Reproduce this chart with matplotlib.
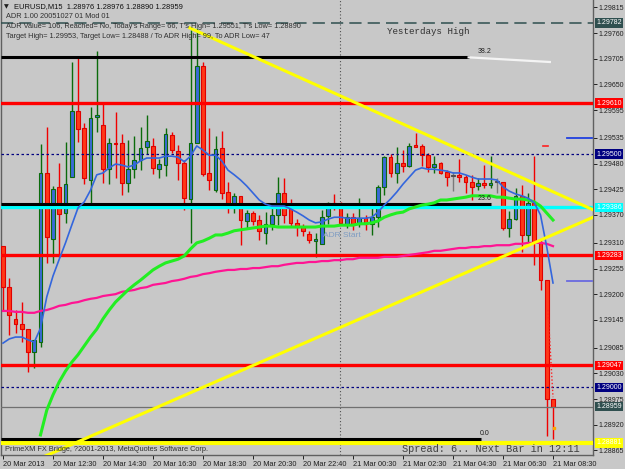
import numpy as np
import matplotlib
matplotlib.use('Agg')
import matplotlib.pyplot as plt
from matplotlib.patches import Rectangle
import matplotlib.transforms as mtransforms

# EURUSD M15, 20 Mar 10:30 .. 21 Mar 08:30
opens = [1.29304, 1.29216, 1.29147, 1.29137, 1.29126, 1.29077, 1.29098, 1.29460, 1.29319, 1.29430,
         1.29374, 1.29451, 1.29592, 1.29556, 1.29445, 1.29580, 1.29562, 1.29468, 1.29524, 1.29524,
         1.29438, 1.29468, 1.29488, 1.29515, 1.29518, 1.29468, 1.29477, 1.29541, 1.29507, 1.29481,
         1.29404, 1.29524, 1.29689, 1.29460, 1.29423, 1.29513, 1.29419, 1.29391, 1.29411, 1.29357,
         1.29374, 1.29359, 1.29331, 1.29351, 1.29370, 1.29417, 1.29389, 1.29353, 1.29344, 1.29329,
         1.29314, 1.29308, 1.29368, 1.29396, 1.29387, 1.29351, 1.29366, 1.29351, 1.29364, 1.29351,
         1.29366, 1.29430, 1.29494, 1.29460, 1.29481, 1.29475, 1.29520, 1.29518, 1.29498, 1.29473,
         1.29481, 1.29462, 1.29453, 1.29455, 1.29451, 1.29440, 1.29432, 1.29438, 1.29434, 1.29440,
         1.29440, 1.29342, 1.29361, 1.29411, 1.29327, 1.29396, 1.29312, 1.29231, 1.28976]
highs = [1.29304, 1.29235, 1.29167, 1.29184, 1.29126, 1.29102, 1.29522, 1.29558, 1.29432, 1.29481,
         1.29526, 1.29697, 1.29706, 1.29567, 1.29601, 1.29721, 1.29607, 1.29535, 1.29590, 1.29543,
         1.29530, 1.29539, 1.29558, 1.29584, 1.29535, 1.29490, 1.29556, 1.29548, 1.29520, 1.29488,
         1.29766, 1.29770, 1.29697, 1.29556, 1.29539, 1.29550, 1.29440, 1.29417, 1.29411, 1.29381,
         1.29378, 1.29370, 1.29376, 1.29389, 1.29451, 1.29449, 1.29404, 1.29361, 1.29351, 1.29336,
         1.29331, 1.29381, 1.29398, 1.29415, 1.29398, 1.29374, 1.29374, 1.29406, 1.29370, 1.29389,
         1.29434, 1.29496, 1.29500, 1.29515, 1.29509, 1.29524, 1.29545, 1.29522, 1.29503, 1.29496,
         1.29483, 1.29466, 1.29462, 1.29490, 1.29455, 1.29455, 1.29449, 1.29477, 1.29496, 1.29449,
         1.29440, 1.29378, 1.29428, 1.29434, 1.29417, 1.29496, 1.29316, 1.29231, 1.28976]
lows = [1.29167, 1.29113, 1.29117, 1.29098, 1.29032, 1.29042, 1.29087, 1.29267, 1.29267, 1.29280,
        1.29353, 1.29451, 1.29526, 1.29436, 1.29396, 1.29548, 1.29438, 1.29436, 1.29449, 1.29413,
        1.29419, 1.29449, 1.29466, 1.29500, 1.29458, 1.29449, 1.29453, 1.29503, 1.29445, 1.29381,
        1.29310, 1.29524, 1.29453, 1.29423, 1.29419, 1.29404, 1.29374, 1.29374, 1.29306, 1.29342,
        1.29349, 1.29316, 1.29308, 1.29338, 1.29349, 1.29353, 1.29344, 1.29325, 1.29325, 1.29310,
        1.29280, 1.29308, 1.29351, 1.29381, 1.29351, 1.29342, 1.29338, 1.29344, 1.29338, 1.29327,
        1.29344, 1.29413, 1.29451, 1.29438, 1.29462, 1.29473, 1.29518, 1.29475, 1.29462, 1.29460,
        1.29458, 1.29432, 1.29421, 1.29440, 1.29417, 1.29402, 1.29423, 1.29428, 1.29428, 1.29417,
        1.29338, 1.29323, 1.29359, 1.29291, 1.29310, 1.29263, 1.29209, 1.28895, 1.28890]
closes = [1.29216, 1.29156, 1.29135, 1.29126, 1.29077, 1.29102, 1.29460, 1.29323, 1.29426, 1.29372,
          1.29436, 1.29592, 1.29554, 1.29449, 1.29577, 1.29584, 1.29468, 1.29524, 1.29522, 1.29438,
          1.29468, 1.29488, 1.29513, 1.29528, 1.29470, 1.29479, 1.29543, 1.29509, 1.29481, 1.29406,
          1.29524, 1.29689, 1.29458, 1.29445, 1.29511, 1.29417, 1.29391, 1.29411, 1.29359, 1.29374,
          1.29357, 1.29336, 1.29351, 1.29370, 1.29417, 1.29370, 1.29353, 1.29344, 1.29336, 1.29316,
          1.29319, 1.29366, 1.29396, 1.29387, 1.29353, 1.29366, 1.29351, 1.29364, 1.29351, 1.29366,
          1.29430, 1.29494, 1.29460, 1.29481, 1.29475, 1.29518, 1.29516, 1.29498, 1.29473, 1.29479,
          1.29460, 1.29451, 1.29453, 1.29451, 1.29440, 1.29430, 1.29438, 1.29434, 1.29438, 1.29440,
          1.29342, 1.29361, 1.29411, 1.29327, 1.29396, 1.29312, 1.29231, 1.28976, 1.28959]

# moving averages
ma_fast = [1.29095, 1.29104, 1.29108, 1.29108, 1.29102, 1.29097, 1.29127, 1.29194, 1.29239, 1.29275,
           1.29310, 1.29348, 1.29385, 1.29398, 1.29423, 1.29456, 1.29460, 1.29471, 1.29479, 1.29477,
           1.29473, 1.29477, 1.29486, 1.29492, 1.29492, 1.29492, 1.29496, 1.29496, 1.29494, 1.29484,
           1.29496, 1.29518, 1.29509, 1.29498, 1.29498, 1.29486, 1.29466, 1.29456, 1.29445, 1.29432,
           1.29417, 1.29402, 1.29393, 1.29389, 1.29389, 1.29389, 1.29383, 1.29376, 1.29368, 1.29359,
           1.29353, 1.29355, 1.29361, 1.29365, 1.29365, 1.29363, 1.29363, 1.29363, 1.29363, 1.29365,
           1.29376, 1.29391, 1.29404, 1.29419, 1.29436, 1.29451, 1.29466, 1.29471, 1.29468, 1.29468,
           1.29466, 1.29464, 1.29460, 1.29460, 1.29456, 1.29451, 1.29447, 1.29447, 1.29447, 1.29445,
           1.29430, 1.29421, 1.29415, 1.29411, 1.29406, 1.29396, 1.29370, 1.29301, 1.29224]
ma_mid = [np.nan] * 6 + [
          1.28898, 1.28951, 1.28984, 1.29012,
           1.29035, 1.29054, 1.29070, 1.29089, 1.29108, 1.29125, 1.29147, 1.29166, 1.29183, 1.29196,
           1.29209, 1.29220, 1.29230, 1.29241, 1.29252, 1.29260, 1.29267, 1.29271, 1.29275, 1.29282,
           1.29297, 1.29310, 1.29314, 1.29320, 1.29327, 1.29327, 1.29331, 1.29336, 1.29338, 1.29340,
           1.29342, 1.29344, 1.29346, 1.29346, 1.29344, 1.29344, 1.29344, 1.29344, 1.29344, 1.29344,
           1.29344, 1.29346, 1.29346, 1.29346, 1.29348, 1.29348, 1.29348, 1.29351, 1.29351, 1.29353,
           1.29357, 1.29365, 1.29370, 1.29374, 1.29376, 1.29383, 1.29387, 1.29391, 1.29393, 1.29396,
           1.29402, 1.29402, 1.29404, 1.29406, 1.29408, 1.29411, 1.29411, 1.29411, 1.29411, 1.29408,
           1.29408, 1.29406, 1.29404, 1.29404, 1.29402, 1.29398, 1.29389, 1.29374, 1.29359]
ma_slow = [1.29164, 1.29164, 1.29162, 1.29162, 1.29160, 1.29160, 1.29164, 1.29166, 1.29170, 1.29175,
           1.29177, 1.29181, 1.29183, 1.29187, 1.29190, 1.29192, 1.29196, 1.29198, 1.29200, 1.29205,
           1.29207, 1.29209, 1.29213, 1.29215, 1.29220, 1.29222, 1.29224, 1.29228, 1.29230, 1.29233,
           1.29237, 1.29239, 1.29243, 1.29245, 1.29248, 1.29250, 1.29252, 1.29252, 1.29254, 1.29254,
           1.29256, 1.29256, 1.29258, 1.29260, 1.29260, 1.29263, 1.29265, 1.29267, 1.29267, 1.29269,
           1.29269, 1.29271, 1.29271, 1.29273, 1.29273, 1.29275, 1.29275, 1.29278, 1.29278, 1.29278,
           1.29278, 1.29280, 1.29280, 1.29280, 1.29282, 1.29284, 1.29286, 1.29288, 1.29290, 1.29293,
           1.29293, 1.29295, 1.29297, 1.29299, 1.29299, 1.29301, 1.29301, 1.29303, 1.29303, 1.29305,
           1.29305, 1.29305, 1.29308, 1.29308, 1.29310, 1.29310, 1.29310, 1.29308, 1.29303]

# trend lines (bar index, price)
trend_a_x = [29.9, 94.4]
trend_a_y = [1.29771, 1.29381]
trend_b_x = [5.6, 94.4]
trend_b_y = [1.28846, 1.29365]
# white level line past the 38.2 label
white_x = [74.5, 87.5]
white_y = [1.29708, 1.29698]
# small marks on the last bars
dot_x = [87.2, 88.0]
dot_y = [1.29166, 1.28979]

time_labels = ['20 Mar 2013', '20 Mar 12:30', '20 Mar 14:30', '20 Mar 16:30', '20 Mar 18:30',
               '20 Mar 20:30', '20 Mar 22:40', '21 Mar 00:30', '21 Mar 02:30', '21 Mar 04:30',
               '21 Mar 06:30', '21 Mar 08:30']
price_ticks = [1.29815, 1.29760, 1.29705, 1.29650, 1.29595, 1.29535, 1.29480, 1.29425, 1.29370,
               1.29310, 1.29255, 1.29200, 1.29145, 1.29085, 1.29030, 1.28975, 1.28920, 1.28865]

red_levels = [1.29610, 1.29283, 1.29047]
cyan_level = 1.29386
navy_levels = [1.29500, 1.29000]
yday_high = 1.29782
adr_low = 1.28881
bid = 1.28959
fib_levels = [1.29708, 1.29393, 1.28890]
fib_names = ['38.2', '23.6', '0.0']

header = ['EURUSD,M15  1.28976 1.28976 1.28890 1.28959',
          'ADR 1.00 20051027 01 Mod 01',
          "ADR Value= 106, Reached= No, Today's Range= 66, T's High= 1.29551, T's Low= 1.28890",
          'Target High= 1.29953, Target Low= 1.28488 / To ADR High= 99, To ADR Low= 47']

W, H = 625, 469
BG = '#C8C8C8'
FONT = ['Liberation Sans', 'DejaVu Sans']
plt.rcParams['font.family'] = FONT

fig = plt.figure(figsize=(W / 100, H / 100), dpi=100, facecolor=BG)
ax = fig.add_axes([1 / W, 14 / H, 592 / W, 455 / H], facecolor=BG)
ax.set_xlim(-0.32, 94.4)
ax.set_ylim(1.28855, 1.29831)

def px(x, y):
    return x / W, 1 - y / H

# candles
for i in range(len(opens)):
    o, h, l, c = opens[i], highs[i], lows[i], closes[i]
    if c > o:
        wick, face, edge = '#0B6B0B', '#3A6AD8', '#0B6B0B'
    elif c < o:
        wick, face, edge = '#F00000', '#FF3818', '#E00000'
    else:
        wick, face, edge = '#7A7A7A', '#7A7A7A', '#505050'
    ax.vlines(i, l, h, color=wick, lw=1, zorder=2)
    ax.add_patch(Rectangle((i - 0.31, min(o, c)), 0.62, max(abs(c - o), 0.00002),
                           facecolor=face, edgecolor=edge, lw=0.8, zorder=3))

# horizontal levels
for lv in red_levels:
    ax.axhline(lv, color='#FF0000', lw=2.4, zorder=4)
ax.axhline(cyan_level, color='#00FFFF', lw=2.4, zorder=4)
for lv in navy_levels:
    ax.axhline(lv, color='#000080', lw=0.9, ls=(0, (2, 2)), zorder=4)
ax.axhline(yday_high, color='#2F4F4F', lw=1.1, ls=(0, (8, 4)), zorder=4)
ax.axhline(adr_low, color='#FFFF00', lw=3, zorder=4)
ax.axhline(bid, color='#707070', lw=0.9, zorder=4)
fib_ends = [74.5, 78.0, 76.5]
for lv, name, xe in zip(fib_levels, fib_names, fib_ends):
    ax.plot([-0.32, xe], [lv, lv], color='black', lw=2.2, zorder=4, solid_capstyle='butt')
    ax.text(77.0, lv + 0.00004, name, fontsize=5, color='#202020', ha='center', va='bottom', zorder=6)
ax.plot(white_x, white_y, color='#F4F4F4', lw=1.6, zorder=4)

ax.axvline(53.92, color='#505050', lw=0.8, ls=(0, (1, 2)), zorder=1)

# indicators
xs = np.arange(len(opens))
ax.plot(xs, ma_slow, color='#FF1493', lw=1.6, zorder=5)
ax.plot(xs, ma_mid, color='#22EE22', lw=2.2, zorder=5)
ax.plot(xs, ma_fast, color='#3366DD', lw=1.2, zorder=5)
ax.plot(dot_x, dot_y, color='#FF2020', lw=1, ls=(0, (1, 1.5)), zorder=5)
ax.plot(trend_a_x, trend_a_y, color='#FFFF00', lw=2.2, zorder=6)
ax.plot(trend_b_x, trend_b_y, color='#FFFF00', lw=2.2, zorder=6)
ax.plot([90.2, 94.3], [1.29535, 1.29535], color='#2040E0', lw=1.3, zorder=6)
ax.plot([90.2, 94.3], [1.29228, 1.29228], color='#6A6AE0', lw=1.3, zorder=6)
ax.plot([86.4, 87.2], [1.29518, 1.29518], color='#FF2020', lw=1.2, zorder=6)
ax.plot([88.2], [1.28913], marker='s', ms=2, color='#FFA500', zorder=6)

ax.text(51.2, 1.29325, 'ADR Start', fontsize=6, color='#7E9CC2', va='center', zorder=6)
ax.text(61.4, 1.29764, 'Yesterdays High', fontsize=6.6, color='#303030',
        family='Liberation Mono', va='center', zorder=6)

# axes look
ax.spines['top'].set_visible(False)
for s in ['left', 'right', 'bottom']:
    ax.spines[s].set_color('#606060')
    ax.spines[s].set_linewidth(1)
ax.yaxis.tick_right()
ax.set_yticks(price_ticks)
ax.set_yticklabels(['%.5f' % p for p in price_ticks])
ax.set_xticks(np.arange(0, 89, 8))
ax.set_xticklabels(time_labels)
ax.tick_params(axis='y', labelsize=5.0, colors='#202020', length=3, width=0.7, pad=1)
ax.tick_params(axis='x', labelsize=5.3, colors='#202020', length=3, width=0.7, pad=1)
for lbl in ax.get_xticklabels():
    lbl.set_horizontalalignment('left')

# price tags on the right
trans = mtransforms.blended_transform_factory(ax.transAxes, ax.transData)
tags = [(yday_high, '#2F4F4F'), (1.29610, '#FF0000'), (1.29500, '#000080'), (cyan_level, '#00FFFF'),
        (1.29283, '#FF0000'), (1.29047, '#FF0000'), (1.29000, '#000080'), (bid, '#2F4F4F'),
        (adr_low, '#FFFF00')]
for p, col in tags:
    ax.text(1 + 3 / 592, p, '%.5f' % p, transform=trans, fontsize=5.0, color='white',
            ha='left', va='center', clip_on=False, zorder=10,
            bbox=dict(boxstyle='square,pad=0.2', fc=col, ec='none'))

# header and footer text
fig.text(*px(4, 7), '\u25bc', fontsize=4.5, color='#202020', va='center', family='DejaVu Sans')
fig.text(*px(14, 7), header[0], fontsize=5.4, color='#101010', va='center')
for k, line in enumerate(header[1:]):
    fig.text(*px(6, 17 + 10 * k), line, fontsize=5.3, color='#303030', va='center')
fig.text(*px(5, 449), 'PrimeXM FX Bridge, ?2001-2013, MetaQuotes Software Corp.',
         fontsize=5.3, color='#303030', va='center')
fig.text(*px(402, 449), 'Spread: 6.. Next Bar in 12:11', fontsize=7.4, color='#404040',
         va='center', family='Liberation Mono')

fig.savefig('out.png', dpi=100, facecolor=BG)
